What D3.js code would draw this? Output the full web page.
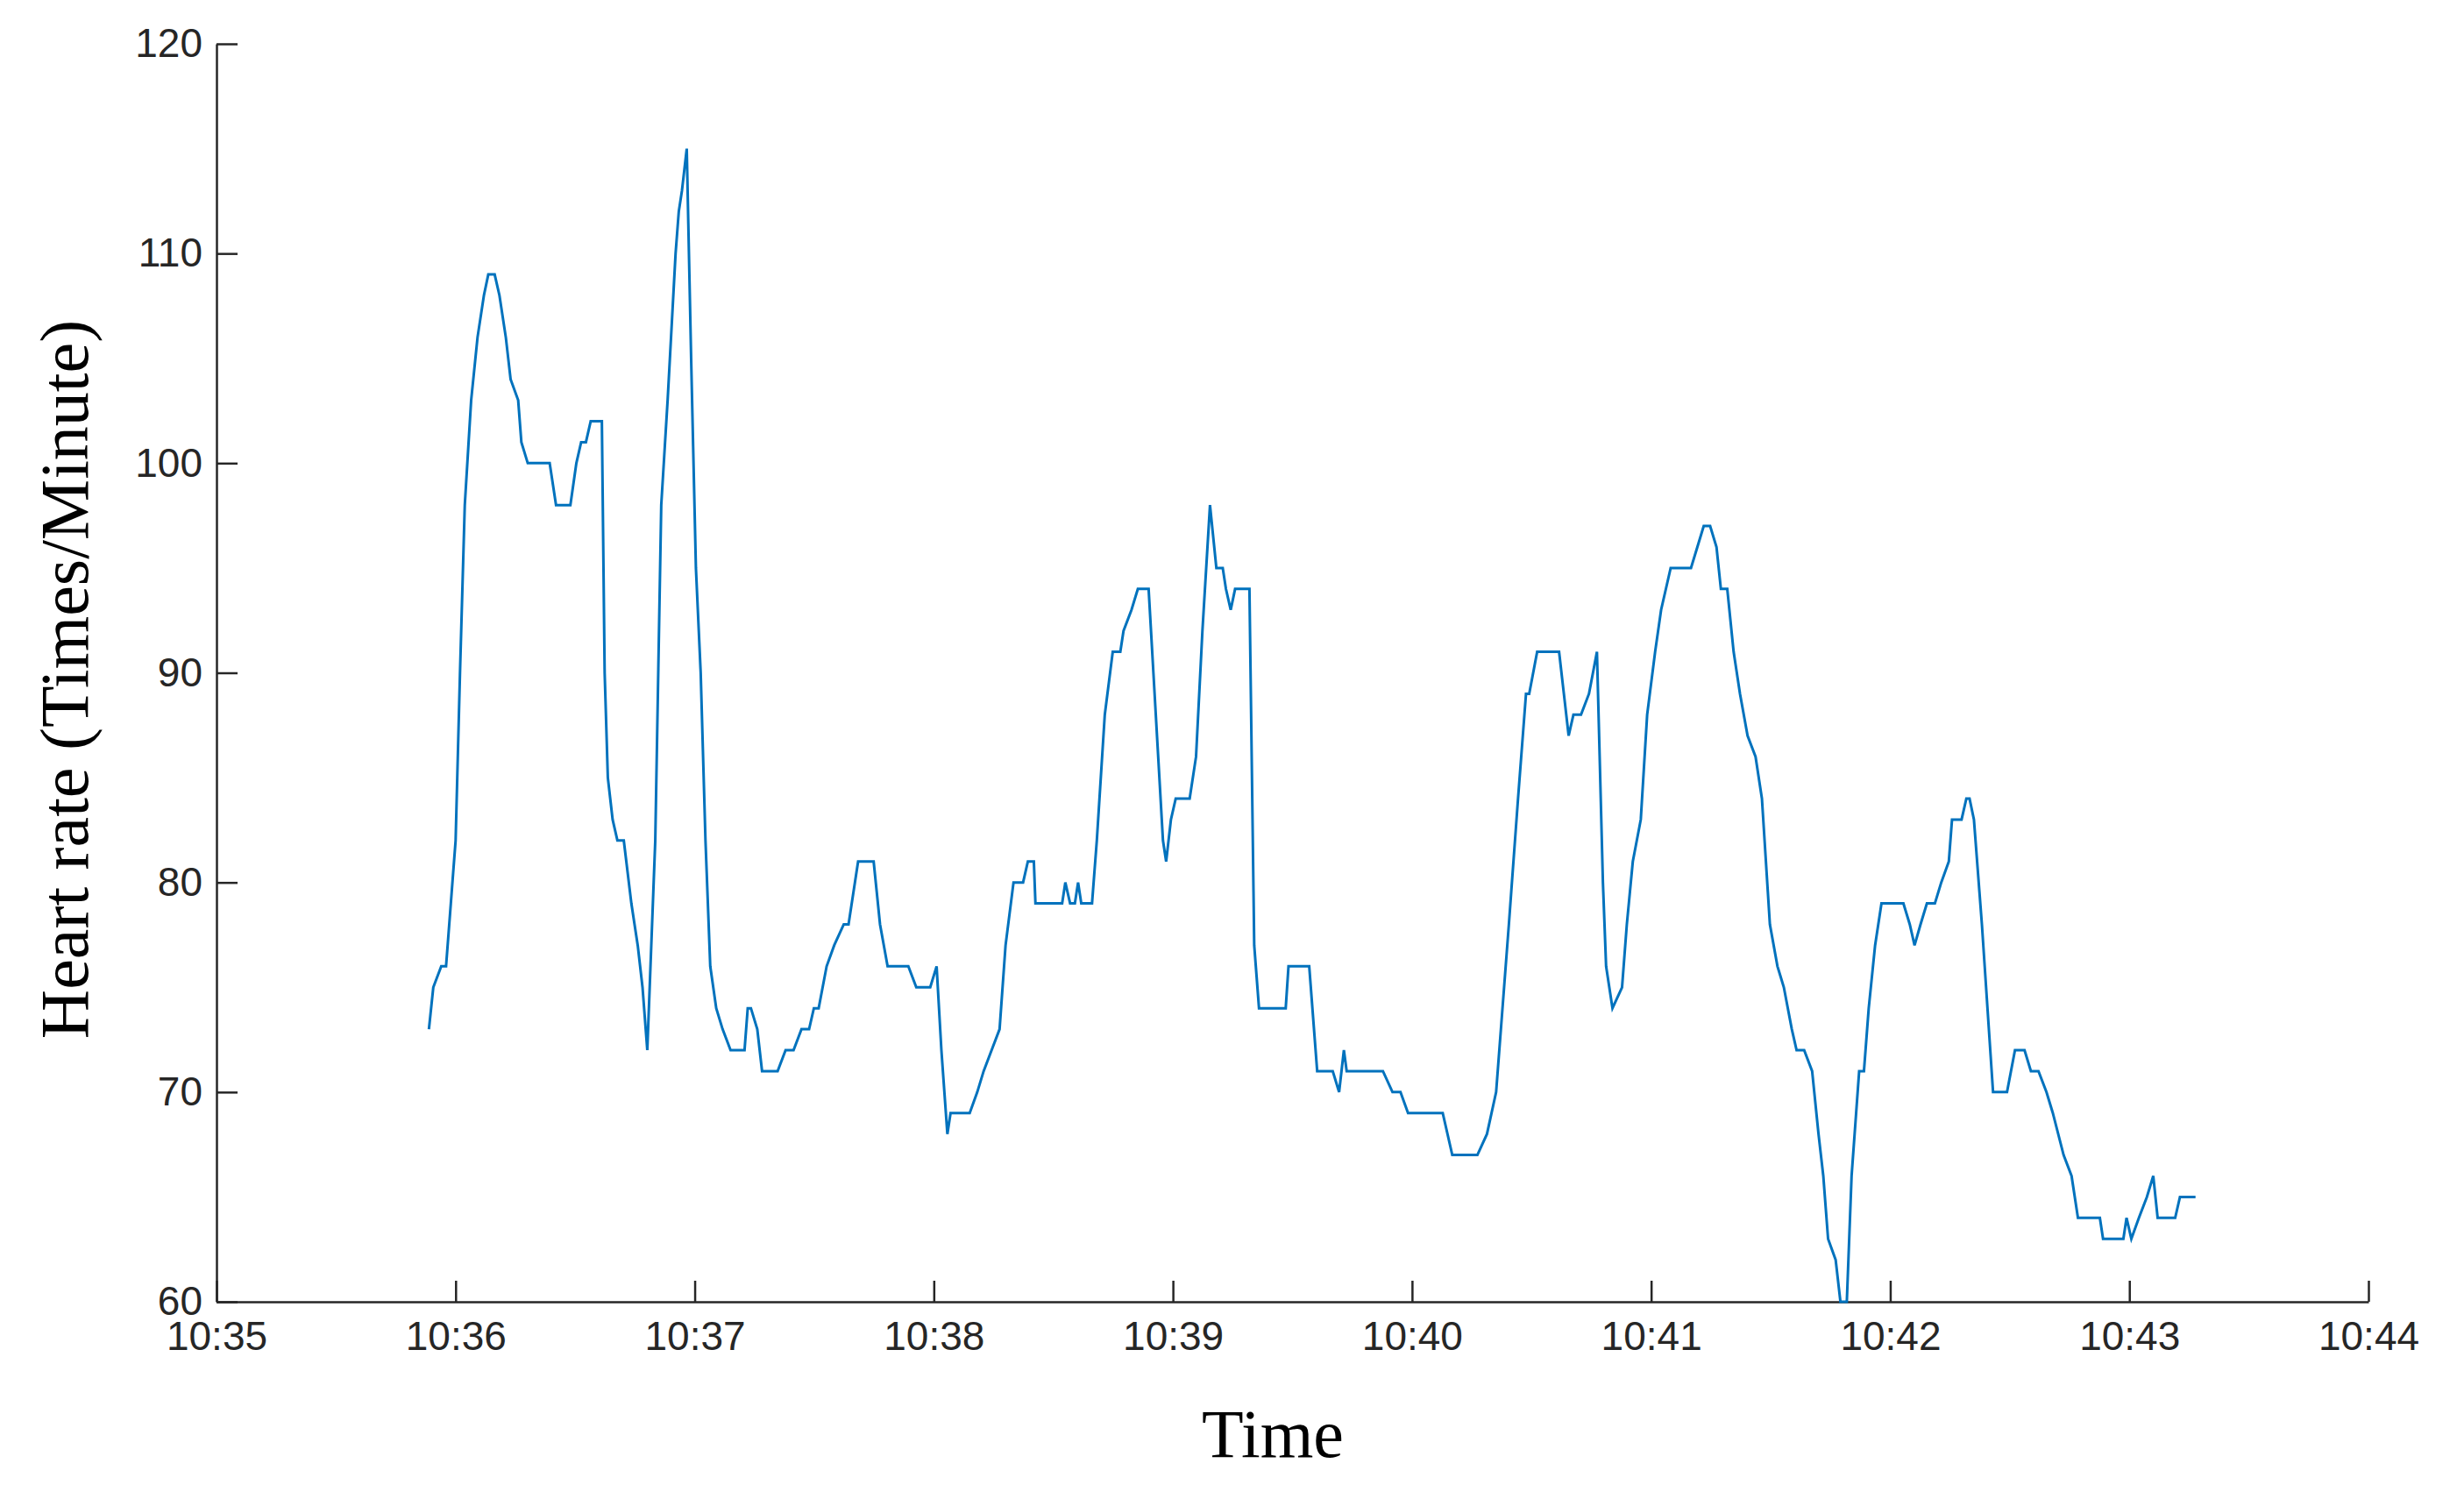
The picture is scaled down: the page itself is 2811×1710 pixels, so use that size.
<!DOCTYPE html>
<html><head><meta charset="utf-8">
<script src="https://cdn.jsdelivr.net/npm/d3@7"></script>
<style>body{margin:0;background:#fff}</style></head>
<body><svg id="c" width="2811" height="1710"></svg>
<script>
// seconds after 10:35:00
const seconds = [53.3,54.4,56.4,57.6,58.8,60.0,61.1,62.3,63.9,65.5,67.1,68.2,69.8,71.0,72.6,73.8,75.7,76.5,78.1,80.5,83.6,85.2,88.8,90.3,91.5,92.7,93.9,96.7,97.4,98.2,99.4,100.6,102.2,104.1,105.7,106.9,108.1,110.1,111.6,113.2,115.2,116.0,116.8,118.0,119.1,120.3,121.5,122.7,123.9,125.4,127.0,129.0,132.5,133.3,134.1,135.7,136.9,140.8,142.8,144.8,146.8,148.7,149.9,151.1,153.1,155.0,157.4,158.6,160.2,161.0,164.9,166.5,168.4,173.6,175.6,179.1,180.7,181.9,183.4,184.2,186.6,189.0,190.9,192.5,194.5,196.5,198.0,200.0,202.4,203.6,205.1,205.5,212.2,213.0,214.2,215.4,216.2,217.0,219.7,220.9,222.9,224.9,226.8,227.6,229.6,231.2,233.9,235.1,236.3,237.5,238.3,239.5,240.7,244.2,245.8,247.4,249.3,250.9,252.5,253.3,254.5,255.6,259.2,260.4,261.6,268.3,269.0,274.2,276.2,280.1,281.7,282.9,283.6,292.7,295.1,297.1,299.0,307.7,310.1,316.4,318.8,321.1,324.3,326.6,328.6,329.4,331.4,336.9,338.1,339.3,340.5,342.4,344.4,346.4,347.9,348.7,350.3,352.7,353.9,355.4,357.4,359.0,361.0,362.5,364.9,370.0,371.6,373.2,374.8,376.4,377.5,379.1,380.7,382.3,384.2,386.2,387.8,389.8,391.7,393.3,395.3,396.5,398.4,400.4,402.0,403.2,404.4,406.3,407.5,409.1,410.3,412.2,413.4,414.6,416.2,417.8,423.3,424.9,426.1,427.6,429.2,431.2,432.8,434.7,435.5,437.9,439.1,439.9,441.0,443.0,445.8,449.3,451.3,453.7,455.3,457.2,459.2,460.8,463.5,465.5,467.1,472.6,473.4,478.5,479.3,480.5,482.4,484.4,486.0,487.1,491.5,492.7,496.6];
const heartRate = [73,75,76,76,79,82,90,98,103,106,108,109,109,108,106,104,103,101,100,100,100,98,98,100,101,101,102,102,90,85,83,82,82,79,77,75,72,82,98,103,110,112,113,115,105,95,90,82,76,74,73,72,72,74,74,73,71,71,72,72,73,73,74,74,76,77,78,78,80,81,81,78,76,76,75,75,76,72,68,69,69,69,70,71,72,73,77,80,80,81,81,79,79,80,79,79,80,79,79,82,88,91,91,92,93,94,94,90,86,82,81,83,84,84,86,92,98,95,95,94,93,94,94,77,74,74,76,76,71,71,70,72,71,71,70,70,69,69,67,67,68,70,78,84,89,89,91,91,89,87,88,88,89,91,80,76,74,75,78,81,83,88,91,93,95,95,96,97,97,96,94,94,91,89,87,86,84,78,76,75,73,72,72,71,68,66,63,62,60,60,66,71,71,74,77,79,79,78,77,78,79,79,80,81,83,83,84,84,83,78,70,70,72,72,71,71,70,69,67,66,64,64,63,63,64,63,64,65,66,64,64,65,65];
const xTickLabels = ["10:35","10:36","10:37","10:38","10:39","10:40","10:41","10:42","10:43","10:44"];
const yTicks = [60,70,80,90,100,110,120];

const base = new Date(2020,0,1,10,35,0);
const data = seconds.map((s,i)=>({t:new Date(base.getTime()+s*1000), v:heartRate[i]}));
const L=247,R=2702,T=50,B=1485;
const x = d3.scaleTime().domain([base, new Date(base.getTime()+9*60000)]).range([L,R]);
const y = d3.scaleLinear().domain([60,120]).range([B,T]);
const svg = d3.select("#c");
const col="#262626";
const xt = xTickLabels.map((_,i)=>new Date(base.getTime()+i*60000));
const gx = svg.append("g").attr("transform",`translate(0,${B})`)
  .call(d3.axisBottom(x).tickValues(xt).tickFormat((d,i)=>xTickLabels[i]).tickSizeInner(-24).tickSizeOuter(0).tickPadding(16));
const gy = svg.append("g").attr("transform",`translate(${L},0)`)
  .call(d3.axisLeft(y).tickValues(yTicks).tickSizeInner(-24).tickSizeOuter(0).tickPadding(16));
[gx,gy].forEach(g=>{g.selectAll("path,line").attr("stroke",col).attr("stroke-width",2.5);
  g.selectAll("text").attr("fill",col).style("font-family","'Liberation Sans',Arial,sans-serif").style("font-size","46px");});
gx.selectAll("text").attr("dy","0.85em");
svg.append("path").datum(data).attr("fill","none").attr("stroke","#0072BD").attr("stroke-width",3)
  .attr("d",d3.line().x(d=>x(d.t)).y(d=>y(d.v)));
svg.append("text").attr("x",1452).attr("y",1662).attr("text-anchor","middle")
  .style("font-family","'Liberation Serif','Times New Roman',serif").style("font-size","78px").text("Time");
svg.append("text").attr("transform","translate(100,775) rotate(-90)").attr("text-anchor","middle")
  .style("font-family","'Liberation Serif','Times New Roman',serif").style("font-size","78px").text("Heart rate (Times/Minute)");
</script></body></html>
